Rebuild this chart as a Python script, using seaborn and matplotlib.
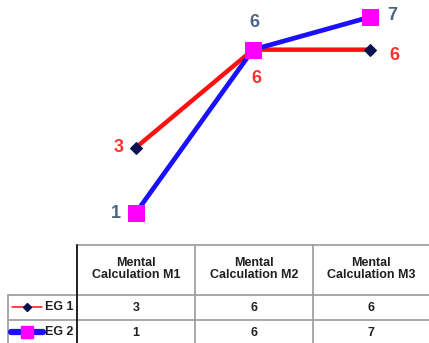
import numpy as np
import pandas as pd
import seaborn as sns
import matplotlib.pyplot as plt

sns.set_theme(style="white")
plt.rcParams['font.family'] = ['Liberation Sans', 'DejaVu Sans']

# Data
categories = ["Mental\nCalculation M1", "Mental\nCalculation M2", "Mental\nCalculation M3"]
series_names = ["EG 1", "EG 2"]
eg1_values = [3, 6, 6]
eg2_values = [1, 6, 7]

df = pd.DataFrame({
    "pos": list(range(len(categories))) * 2,
    "value": eg1_values + eg2_values,
    "group": [series_names[0]] * 3 + [series_names[1]] * 3,
})

W, H = 429, 343
fig = plt.figure(figsize=(W / 100, H / 100), dpi=100)

# Plot area aligned with the table columns
ax = fig.add_axes([77 / W, (H - 235) / H, 352 / W, 230 / H])
ax.set_xlim(-0.5, 2.5)
ax.set_ylim(0.33, 7.366)
ax.axis("off")

eg1 = df[df.group == "EG 1"]
eg2 = df[df.group == "EG 2"]

sns.lineplot(data=eg1, x="pos", y="value", ax=ax, color="#ff1010", lw=3.2,
             marker="D", markersize=6, markerfacecolor="#0a1050",
             markeredgecolor="#0a1050", legend=False, zorder=2)
sns.lineplot(data=eg2, x="pos", y="value", ax=ax, color="#1a10ff", lw=3.4,
             marker="s", markersize=11.5, markerfacecolor="#ff00ff",
             markeredgecolor="#ff00ff", legend=False, zorder=3)

red_txt = "#ff3030"
blue_txt = "#4a6585"
lab_kw = dict(textcoords="offset points", fontsize=13, fontweight="bold",
              ha="center", va="center")
px = 0.72  # points per pixel

eg1_offsets = [(-17, 0), (3, -29), (24, -6)]
eg2_offsets = [(-20, 0), (1, 27), (22, 1)]
for i, v in enumerate(eg1_values):
    ax.annotate(str(v), (i, v), xytext=(eg1_offsets[i][0] * px, eg1_offsets[i][1] * px),
                color=red_txt, **lab_kw)
for i, v in enumerate(eg2_values):
    ax.annotate(str(v), (i, v), xytext=(eg2_offsets[i][0] * px, eg2_offsets[i][1] * px),
                color=blue_txt, **lab_kw)

# Data table below the chart, drawn in pixel coordinates
tx = fig.add_axes([0, 0, 1, 1], zorder=-1)
tx.set_xlim(0, W)
tx.set_ylim(H, 0)
tx.axis("off")

col_edges = [77, 195, 313, 429]
row_edges = [245, 295, 320, 345]
grid = "#9a9a9a"
# horizontal lines
tx.plot([77, W], [row_edges[0]] * 2, color=grid, lw=1.2)
for y in row_edges[1:3]:
    tx.plot([8, W], [y, y], color=grid, lw=1.2)
# vertical lines
tx.plot([8, 8], [row_edges[1], H], color=grid, lw=1.2)
tx.plot([77, 77], [row_edges[0], H], color="#202020", lw=1.4)
for x in col_edges[1:3]:
    tx.plot([x, x], [row_edges[0], H], color=grid, lw=1.2)

tcol = "#202020"
tfs = 9
for j, cat in enumerate(categories):
    cx = (col_edges[j] + col_edges[j + 1]) / 2
    tx.text(cx, 269, cat, ha="center", va="center", fontsize=tfs,
            fontweight="bold", color=tcol, linespacing=1.1)
    tx.text(cx, 308, str(eg1_values[j]), ha="center", va="center",
            fontsize=tfs, fontweight="bold", color=tcol)
    tx.text(cx, 333, str(eg2_values[j]), ha="center", va="center",
            fontsize=tfs, fontweight="bold", color=tcol)

# Row legend keys
tx.plot([12, 42], [307, 307], color="#ff1010", lw=1.1, marker=None)
tx.plot([27], [307], marker="D", ms=4, color="#0a1050", lw=0)
tx.plot([11, 43], [332, 332], color="#1a10ff", lw=4.5, marker=None,
        solid_capstyle="round")
tx.plot([27], [332], marker="s", ms=8, color="#ff00ff", lw=0)
tx.text(45, 307, series_names[0], ha="left", va="center", fontsize=tfs,
        fontweight="bold", color=tcol)
tx.text(45, 332, series_names[1], ha="left", va="center", fontsize=tfs,
        fontweight="bold", color=tcol)

fig.savefig("out.png", dpi=100)
